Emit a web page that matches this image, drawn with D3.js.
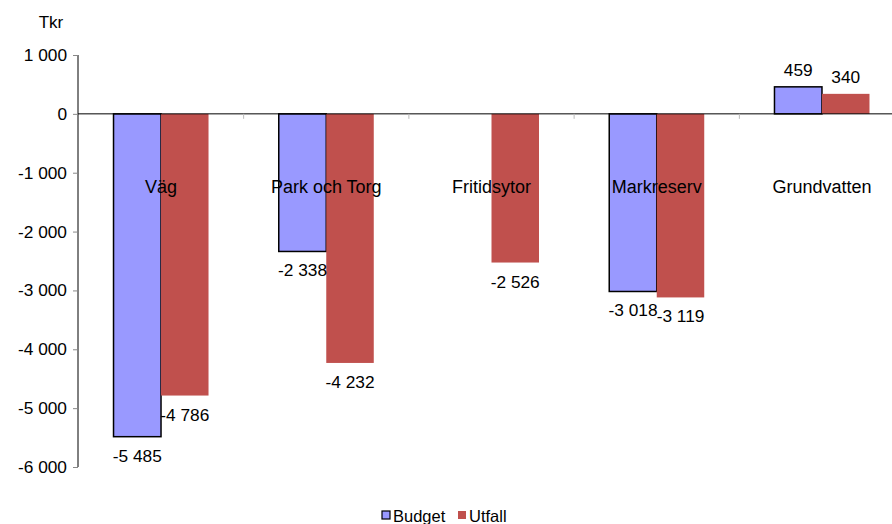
<!DOCTYPE html>
<html><head><meta charset="utf-8">
<script src="https://cdn.jsdelivr.net/npm/d3@7"></script>
<style>body{margin:0;background:#fff}svg{display:block}text{font-family:"Liberation Sans",Arial,sans-serif}</style>
</head><body><svg id="c" width="892" height="524"></svg>
<script>
const categories = ["Väg","Park och Torg","Fritidsytor","Markreserv","Grundvatten"];
const budget = [-5485,-2338,null,-3018,459];
const utfall = [-4786,-4232,-2526,-3119,340];
const yTicks = [1000,0,-1000,-2000,-3000,-4000,-5000,-6000];
const seriesNames = ["Budget","Utfall"];

const svg = d3.select("#c");
const fmt = v => d3.format(",")(v).replace(/,/g," ").replace("\u2212", "-");
const x0 = d3.scaleBand().domain(categories).range([78.4, 904.6]).paddingInner(0).paddingOuter(0);
const x1 = d3.scaleBand().domain(seriesNames).range([0, 95]);
const y = d3.scaleLinear().domain([-6000,1000]).range([467,55]);

// y axis
const yAxis = d3.axisLeft(y).tickValues(yTicks).tickSize(5).tickFormat(fmt);
const ga = svg.append("g").attr("transform","translate(78,0)").call(yAxis);
ga.select(".domain").attr("stroke","#000").attr("d","M0,55V467");
ga.selectAll(".tick line").attr("stroke","#888");
ga.selectAll(".tick text").attr("font-size",17.3).attr("fill","#000").attr("x",-11).attr("font-family","'Liberation Sans',Arial,sans-serif");

svg.append("text").attr("x",51).attr("y",28).attr("text-anchor","middle").attr("font-size",17).text("Tkr");

const off = (x0.bandwidth()-95)/2;
const data = categories.map((c,i)=>({c, vals:[{s:"Budget",v:budget[i]},{s:"Utfall",v:utfall[i]}]}));
const colors = {Budget:"#9999FF", Utfall:"#C0504D"};

const g = svg.selectAll("g.grp").data(data).enter().append("g").attr("class","grp")
  .attr("transform", d=>`translate(${x0(d.c)+off},0)`);
g.selectAll("rect").data(d=>d.vals.filter(e=>e.v!=null)).enter().append("rect")
  .attr("x", e=>x1(e.s)).attr("width", x1.bandwidth())
  .attr("y", e=>y(Math.max(0,e.v))).attr("height", e=>Math.abs(y(e.v)-y(0)))
  .attr("fill", e=>colors[e.s])
  .attr("stroke", e=>e.s==="Budget"?"#000":"none").attr("stroke-width",1.5);
g.selectAll("text.val").data(d=>d.vals.filter(e=>e.v!=null)).enter().append("text").attr("class","val")
  .attr("x", e=>x1(e.s)+x1.bandwidth()/2)
  .attr("y", e=> e.v<0 ? y(e.v)+25 : y(e.v)-11)
  .attr("text-anchor","middle").attr("font-size",17.3).text(e=>fmt(e.v));

// zero line and category ticks
svg.append("line").attr("x1",78).attr("x2",892).attr("y1",y(0)).attr("y2",y(0)).attr("stroke","#000").attr("stroke-width",1);
svg.selectAll("line.ct").data(categories.slice(1)).enter().append("line").attr("class","ct")
  .attr("x1",d=>x0(d)).attr("x2",d=>x0(d)).attr("y1",y(0)).attr("y2",y(0)+5).attr("stroke","#bbb");

// category labels
svg.selectAll("text.cat").data(categories).enter().append("text").attr("class","cat")
  .attr("x",d=>x0(d)+x0.bandwidth()/2).attr("y",192.5).attr("text-anchor","middle").attr("font-size",18).text(d=>d);

// legend
const lg = svg.append("g");
const items = [{s:"Budget",x:382},{s:"Utfall",x:458}];
items.forEach(it=>{
  lg.append("rect").attr("x",it.x).attr("y",511).attr("width",8).attr("height",8)
    .attr("fill",colors[it.s]).attr("stroke",it.s==="Budget"?"#000":"none").attr("stroke-width",1.2);
  lg.append("text").attr("x",it.x+11).attr("y",522).attr("font-size",16.5).text(it.s);
});
</script></body></html>
